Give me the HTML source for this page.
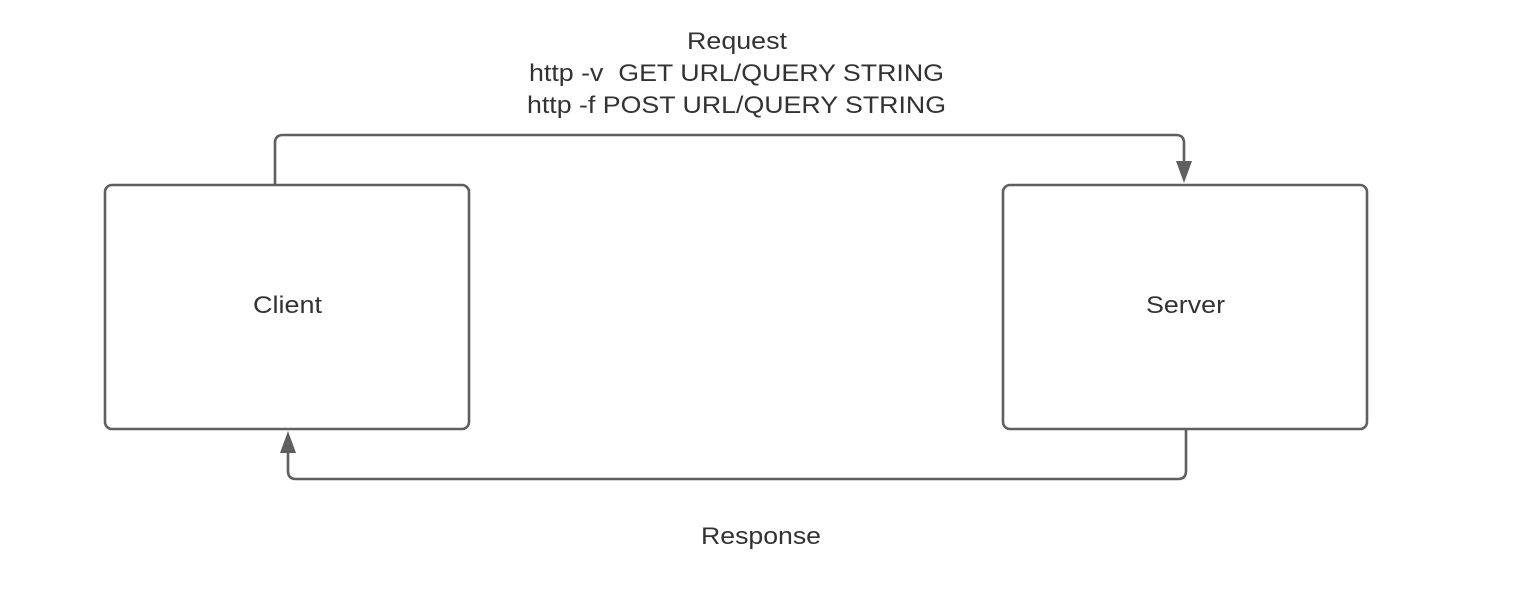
<!DOCTYPE html>
<html><head><meta charset="utf-8"><style>
html,body{margin:0;padding:0;background:#fff;}
svg{display:block;}
text{font-family:"Liberation Sans",sans-serif;fill:#333;font-size:24px;}
</style></head><body>
<svg width="1522" height="606" viewBox="0 0 1522 606">
<g fill="none" stroke="#5f5f5f" stroke-width="2.6">
<path d="M275 185 V143 Q275 135 283 135 H1176 Q1184 135 1184 143 V162"/>
<path d="M1186 430 V471 Q1186 479 1178 479 H296 Q288 479 288 471 V452"/>
<rect x="105" y="185" width="364" height="244" rx="7"/>
<rect x="1003" y="185" width="364" height="244" rx="7"/>
</g>
<polygon points="1176,161 1192,161 1184,183" fill="#5f5f5f"/>
<polygon points="280,453 296,453 288,431" fill="#5f5f5f"/>
<text x="253" y="313" textLength="69" lengthAdjust="spacingAndGlyphs">Client</text>
<text x="1146" y="313" textLength="79" lengthAdjust="spacingAndGlyphs">Server</text>
<text x="687" y="49" textLength="100" lengthAdjust="spacingAndGlyphs">Request</text>
<text x="529" y="81" textLength="415" lengthAdjust="spacingAndGlyphs" xml:space="preserve">http -v  GET URL/QUERY STRING</text>
<text x="527" y="113" textLength="419" lengthAdjust="spacingAndGlyphs">http -f POST URL/QUERY STRING</text>
<text x="701" y="544" textLength="120" lengthAdjust="spacingAndGlyphs">Response</text>
</svg>
</body></html>
